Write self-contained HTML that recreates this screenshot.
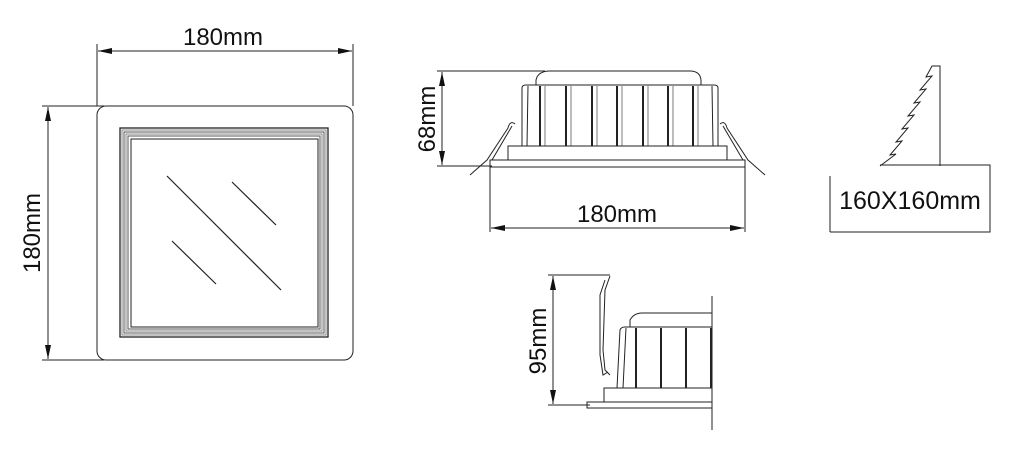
<!DOCTYPE html>
<html><head><style>body{margin:0;background:#fff}svg{display:block}text{font-family:"Liberation Sans",sans-serif;fill:#111}</style></head><body>
<svg width="1018" height="450" viewBox="0 0 1018 450" fill="none" stroke="#222" stroke-width="1">
<defs><marker id="a" viewBox="0 0 14 6" refX="14" refY="3" markerWidth="14" markerHeight="6" markerUnits="userSpaceOnUse" orient="auto-start-reverse"><path d="M0,0L14,3L0,6z" fill="#111" stroke="none"/></marker></defs>
<!-- left square -->
<line x1="97" y1="44" x2="97" y2="106"/><line x1="353" y1="44" x2="353" y2="106"/>
<line x1="98" y1="51" x2="352" y2="51" marker-start="url(#a)" marker-end="url(#a)"/>
<text x="223" y="45" font-size="24" text-anchor="middle" stroke="none">180mm</text>
<line x1="42" y1="106" x2="104" y2="106"/><line x1="42" y1="360" x2="104" y2="360"/>
<line x1="48" y1="107" x2="48" y2="359" marker-start="url(#a)" marker-end="url(#a)"/>
<text transform="translate(40,233) rotate(-90)" font-size="24" text-anchor="middle" stroke="none">180mm</text>
<rect x="97" y="106" width="256" height="254" rx="9"/>
<rect x="120" y="128" width="208" height="209" stroke-width="1.3"/>
<rect x="122" y="130" width="204" height="205" stroke="#888"/>
<rect x="124" y="132" width="200" height="201" stroke="#555"/>
<rect x="126" y="134" width="196" height="197" stroke="#888"/>
<rect x="128" y="136" width="192" height="193" stroke="#555"/>
<rect x="131" y="139" width="187" height="188"/>
<line x1="167" y1="176" x2="281" y2="290" stroke-width="1.2"/>
<line x1="232" y1="182" x2="276" y2="225" stroke-width="1.2"/>
<line x1="172" y1="241" x2="216" y2="284" stroke-width="1.2"/>
<!-- side view -->
<line x1="437" y1="71" x2="545" y2="71"/><line x1="437" y1="166" x2="492" y2="166"/>
<line x1="442" y1="72" x2="442" y2="165" marker-start="url(#a)" marker-end="url(#a)"/>
<text transform="translate(435,119) rotate(-90)" font-size="24" text-anchor="middle" stroke="none">68mm</text>
<path d="M536,85 L536,80 Q538,71 550,71 L690,71 Q700,71 701,80 L701,85"/>
<path d="M522,146 L522,88 Q522,85 526,85 L714,85 Q718,85 718,88 L718,146"/>
<path d="M527,146 L528,86 M713,146 L712,86"/>
<g stroke-width="2"><line x1="540" y1="86" x2="540" y2="146"/><line x1="566" y1="86" x2="566" y2="146"/><line x1="592" y1="86" x2="592" y2="146"/><line x1="617" y1="86" x2="617" y2="146"/><line x1="643" y1="86" x2="643" y2="146"/><line x1="668" y1="86" x2="668" y2="146"/><line x1="693" y1="86" x2="693" y2="146"/></g>
<g stroke-width="0.6"><line x1="545" y1="86" x2="545" y2="146"/><line x1="571" y1="86" x2="571" y2="146"/><line x1="597" y1="86" x2="597" y2="146"/><line x1="622" y1="86" x2="622" y2="146"/><line x1="648" y1="86" x2="648" y2="146"/><line x1="673" y1="86" x2="673" y2="146"/><line x1="698" y1="86" x2="698" y2="146"/></g>
<rect x="508" y="146" width="219" height="14"/>
<rect x="490" y="160" width="255" height="7"/>
<path d="M508,128 L487,160 L470,175 M512,126 L492,160 M515,124 Q510,120 508,128"/>
<path d="M727,128 L748,160 L765,175 M723,126 L743,160 M720,124 Q725,120 727,128"/>
<line x1="490" y1="167" x2="490" y2="232"/><line x1="745" y1="167" x2="745" y2="232"/>
<line x1="491" y1="228" x2="744" y2="228" marker-start="url(#a)" marker-end="url(#a)"/>
<text x="617" y="222" font-size="24" text-anchor="middle" stroke="none">180mm</text>
<!-- right icon -->
<path d="M940,166 L940,66 L932,66 L926,77 L932,76 L920,90 L926,89 L914,103 L920,102 L908,116 L914,115 L902,129 L908,128 L896,142 L902,141 L890,155 L896,154 L880,166"/>
<path d="M830,232 L830,176 M880,165 L990,165 L990,232 L830,232"/>
<text x="910" y="209" font-size="25" text-anchor="middle" stroke="none">160X160mm</text>
<!-- bottom view -->
<line x1="548" y1="275" x2="610" y2="275"/><line x1="548" y1="405" x2="590" y2="405"/>
<line x1="553" y1="276" x2="553" y2="404" marker-start="url(#a)" marker-end="url(#a)"/>
<text transform="translate(546,341) rotate(-90)" font-size="24" text-anchor="middle" stroke="none">95mm</text>
<line x1="712" y1="296" x2="712" y2="430"/>
<rect x="587" y="402" width="125" height="6"/>
<rect x="604" y="388" width="108" height="14"/>
<path d="M630,327 L630,320 Q634,313 642,313 L712,313"/>
<path d="M617,388 L620,330 Q621,327 625,327 L712,327 M623,388 L626,328"/>
<g stroke-width="2"><line x1="636" y1="328" x2="636" y2="388"/><line x1="661" y1="328" x2="661" y2="388"/><line x1="686" y1="328" x2="686" y2="388"/><line x1="711" y1="328" x2="711" y2="388"/></g>
<path d="M610,276 L605,290 L603,350 L605,370 L610,375 M605,280 L600,295 L600,355 L603,375 L608,372"/>
</svg>
</body></html>
